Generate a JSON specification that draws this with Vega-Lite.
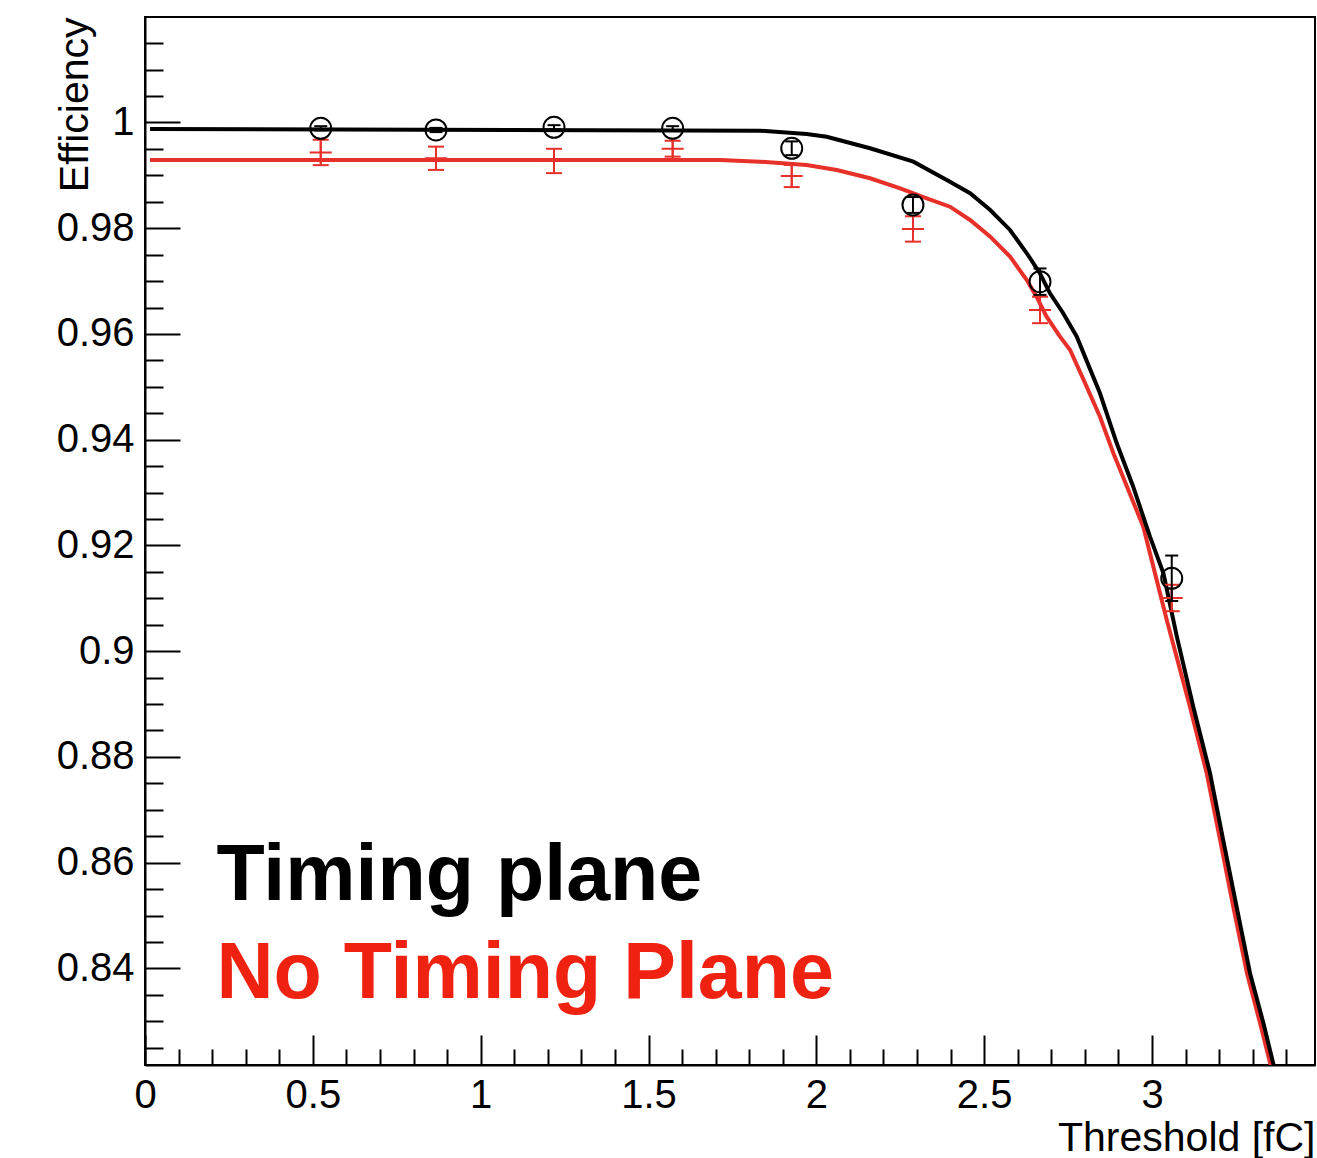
{
  "$schema": "https://vega.github.io/schema/vega-lite/v6.json",
  "width": 1170,
  "height": 1048,
  "autosize": {"type": "none"},
  "padding": {"left": 145, "top": 17, "right": 2, "bottom": 93},
  "background": "white",
  "config": {
    "view": {"stroke": "#000000", "strokeWidth": 2},
    "axis": {
      "grid": false,
      "domainColor": "#000000",
      "domainWidth": 2,
      "tickColor": "#000000",
      "tickWidth": 2,
      "labelFont": "Liberation Sans",
      "labelFontSize": 40,
      "labelColor": "#000000",
      "titleFont": "Liberation Sans",
      "titleFontSize": 41,
      "titleFontWeight": "normal",
      "titleColor": "#000000",
      "labelFlush": false,
      "labelOverlap": false
    }
  },
  "datasets": {
    "fit_timing": [
      {"x": 0.015, "y": 0.99877},
      {"x": 1.832, "y": 0.99845},
      {"x": 1.971, "y": 0.99782},
      {"x": 2.031, "y": 0.99731},
      {"x": 2.160, "y": 0.99512},
      {"x": 2.289, "y": 0.99259},
      {"x": 2.398, "y": 0.98880},
      {"x": 2.458, "y": 0.98661},
      {"x": 2.518, "y": 0.98345},
      {"x": 2.577, "y": 0.97967},
      {"x": 2.627, "y": 0.97526},
      {"x": 2.666, "y": 0.97148},
      {"x": 2.696, "y": 0.96769},
      {"x": 2.735, "y": 0.96397},
      {"x": 2.776, "y": 0.95948},
      {"x": 2.810, "y": 0.95420},
      {"x": 2.845, "y": 0.94878},
      {"x": 2.895, "y": 0.93932},
      {"x": 2.944, "y": 0.93111},
      {"x": 2.994, "y": 0.92166},
      {"x": 3.034, "y": 0.91473},
      {"x": 3.074, "y": 0.90274},
      {"x": 3.123, "y": 0.88950},
      {"x": 3.173, "y": 0.87690},
      {"x": 3.212, "y": 0.86429},
      {"x": 3.252, "y": 0.85167},
      {"x": 3.292, "y": 0.83908},
      {"x": 3.332, "y": 0.82962},
      {"x": 3.361, "y": 0.82205},
      {"x": 3.369, "y": 0.81980}
    ],
    "fit_notiming": [
      {"x": 0.015, "y": 0.99291},
      {"x": 1.713, "y": 0.99291},
      {"x": 1.832, "y": 0.99259},
      {"x": 1.971, "y": 0.99196},
      {"x": 2.061, "y": 0.99102},
      {"x": 2.160, "y": 0.98945},
      {"x": 2.250, "y": 0.98755},
      {"x": 2.329, "y": 0.98566},
      {"x": 2.398, "y": 0.98407},
      {"x": 2.458, "y": 0.98156},
      {"x": 2.518, "y": 0.97840},
      {"x": 2.577, "y": 0.97462},
      {"x": 2.627, "y": 0.97021},
      {"x": 2.656, "y": 0.96705},
      {"x": 2.686, "y": 0.96327},
      {"x": 2.726, "y": 0.95949},
      {"x": 2.756, "y": 0.95697},
      {"x": 2.800, "y": 0.95080},
      {"x": 2.845, "y": 0.94435},
      {"x": 2.885, "y": 0.93743},
      {"x": 2.974, "y": 0.92355},
      {"x": 3.044, "y": 0.90590},
      {"x": 3.113, "y": 0.88950},
      {"x": 3.163, "y": 0.87690},
      {"x": 3.203, "y": 0.86429},
      {"x": 3.242, "y": 0.85167},
      {"x": 3.283, "y": 0.83908},
      {"x": 3.322, "y": 0.82962},
      {"x": 3.352, "y": 0.82205},
      {"x": 3.361, "y": 0.81980}
    ],
    "pts_timing": [
      {"x": 0.5235, "y": 0.99890, "lo": 0.99850, "hi": 0.99930},
      {"x": 0.8669, "y": 0.99858, "lo": 0.99818, "hi": 0.99898},
      {"x": 1.2185, "y": 0.99909, "lo": 0.99869, "hi": 0.99949},
      {"x": 1.5720, "y": 0.99890, "lo": 0.99850, "hi": 0.99930},
      {"x": 1.9267, "y": 0.99512, "lo": 0.99382, "hi": 0.99642},
      {"x": 2.2879, "y": 0.98440, "lo": 0.98290, "hi": 0.98590},
      {"x": 2.6664, "y": 0.96989, "lo": 0.96739, "hi": 0.97239},
      {"x": 3.0588, "y": 0.91379, "lo": 0.90949, "hi": 0.91809}
    ],
    "pts_notiming": [
      {"x": 0.5235, "y": 0.99433, "lo": 0.99193, "hi": 0.99673},
      {"x": 0.8669, "y": 0.99323, "lo": 0.99103, "hi": 0.99543},
      {"x": 1.2185, "y": 0.99272, "lo": 0.99042, "hi": 0.99502},
      {"x": 1.5720, "y": 0.99504, "lo": 0.99354, "hi": 0.99654},
      {"x": 1.9267, "y": 0.98988, "lo": 0.98778, "hi": 0.99198},
      {"x": 2.2879, "y": 0.97986, "lo": 0.97746, "hi": 0.98226},
      {"x": 2.6664, "y": 0.96454, "lo": 0.96204, "hi": 0.96704},
      {"x": 3.0588, "y": 0.91006, "lo": 0.90756, "hi": 0.91256}
    ],
    "labels": [
      {"label": "Timing plane", "x": 0.213, "y": 0.85294, "series": "Timing plane"},
      {"label": "No Timing Plane", "x": 0.213, "y": 0.83435, "series": "No Timing Plane"}
    ]
  },
  "encoding": {
    "x": {
      "field": "x",
      "type": "quantitative",
      "scale": {"domain": [0, 3.4856], "nice": false, "zero": false},
      "axis": {
        "title": "Threshold [fC]",
        "titleX": 1170,
        "titleY": 85,
        "titleAlign": "right",
        "titleBaseline": "alphabetic",
        "values": [0, 0.1, 0.2, 0.3, 0.4, 0.5, 0.6, 0.7, 0.8, 0.9, 1, 1.1, 1.2, 1.3, 1.4, 1.5, 1.6, 1.7, 1.8, 1.9, 2, 2.1, 2.2, 2.3, 2.4, 2.5, 2.6, 2.7, 2.8, 2.9, 3, 3.1, 3.2, 3.3, 3.4],
        "format": ".2~f",
        "labelExpr": "abs(datum.value*2 - round(datum.value*2)) < 0.01 ? datum.label : ''",
        "tickSize": {"condition": {"test": "abs(datum.value*2 - round(datum.value*2)) < 0.01", "value": -30}, "value": -16},
        "labelPadding": 40
      }
    },
    "y": {
      "field": "y",
      "type": "quantitative",
      "scale": {"domain": [0.82173, 1.01995], "nice": false, "zero": false},
      "axis": {
        "title": "Efficiency",
        "titleX": -58,
        "titleY": 0,
        "titleAngle": 270,
        "titleAlign": "right",
        "titleBaseline": "alphabetic",
        "values": [0.825, 0.83, 0.835, 0.84, 0.845, 0.85, 0.855, 0.86, 0.865, 0.87, 0.875, 0.88, 0.885, 0.89, 0.895, 0.9, 0.905, 0.91, 0.915, 0.92, 0.925, 0.93, 0.935, 0.94, 0.945, 0.95, 0.955, 0.96, 0.965, 0.97, 0.975, 0.98, 0.985, 0.99, 0.995, 1, 1.005, 1.01, 1.015],
        "format": ".3~f",
        "labelExpr": "abs(datum.value*50 - round(datum.value*50)) < 0.01 ? datum.label : ''",
        "tickSize": {"condition": {"test": "abs(datum.value*50 - round(datum.value*50)) < 0.01", "value": -35}, "value": -18},
        "labelPadding": 46
      }
    }
  },
  "layer": [
    {
      "data": {"name": "fit_notiming"},
      "mark": {"type": "line", "color": "#e8302a", "strokeWidth": 4, "clip": true}
    },
    {
      "data": {"name": "fit_timing"},
      "mark": {"type": "line", "color": "#000000", "strokeWidth": 4, "clip": true}
    },
    {
      "data": {"name": "pts_notiming"},
      "mark": {"type": "rule", "color": "#e8302a", "strokeWidth": 2},
      "encoding": {"y": {"field": "lo", "type": "quantitative"}, "y2": {"field": "hi"}}
    },
    {
      "data": {"name": "pts_notiming"},
      "mark": {"type": "point", "shape": "M-1,0H1", "filled": false, "color": "#e8302a", "strokeWidth": 2, "size": 256, "opacity": 1},
      "encoding": {"y": {"field": "lo", "type": "quantitative"}}
    },
    {
      "data": {"name": "pts_notiming"},
      "mark": {"type": "point", "shape": "M-1,0H1", "filled": false, "color": "#e8302a", "strokeWidth": 2, "size": 256, "opacity": 1},
      "encoding": {"y": {"field": "hi", "type": "quantitative"}}
    },
    {
      "data": {"name": "pts_notiming"},
      "mark": {"type": "point", "shape": "M-1,0H1M0,-1V1", "filled": false, "color": "#e8302a", "strokeWidth": 2, "size": 484, "opacity": 1}
    },
    {
      "data": {"name": "pts_timing"},
      "mark": {"type": "rule", "color": "#000000", "strokeWidth": 2},
      "encoding": {"y": {"field": "lo", "type": "quantitative"}, "y2": {"field": "hi"}}
    },
    {
      "data": {"name": "pts_timing"},
      "mark": {"type": "point", "shape": "M-1,0H1", "filled": false, "color": "#000000", "strokeWidth": 2, "size": 169, "opacity": 1},
      "encoding": {"y": {"field": "lo", "type": "quantitative"}}
    },
    {
      "data": {"name": "pts_timing"},
      "mark": {"type": "point", "shape": "M-1,0H1", "filled": false, "color": "#000000", "strokeWidth": 2, "size": 169, "opacity": 1},
      "encoding": {"y": {"field": "hi", "type": "quantitative"}}
    },
    {
      "data": {"name": "pts_timing"},
      "mark": {"type": "point", "shape": "circle", "filled": false, "color": "#000000", "strokeWidth": 2, "size": 440, "opacity": 1}
    },
    {
      "data": {"name": "labels"},
      "mark": {"type": "text", "font": "Liberation Sans", "fontWeight": "bold", "fontSize": 79, "align": "left", "baseline": "alphabetic"},
      "encoding": {
        "text": {"field": "label"},
        "color": {
          "field": "series",
          "type": "nominal",
          "scale": {"domain": ["Timing plane", "No Timing Plane"], "range": ["#000000", "#ef2212"]},
          "legend": null
        }
      }
    }
  ]
}
